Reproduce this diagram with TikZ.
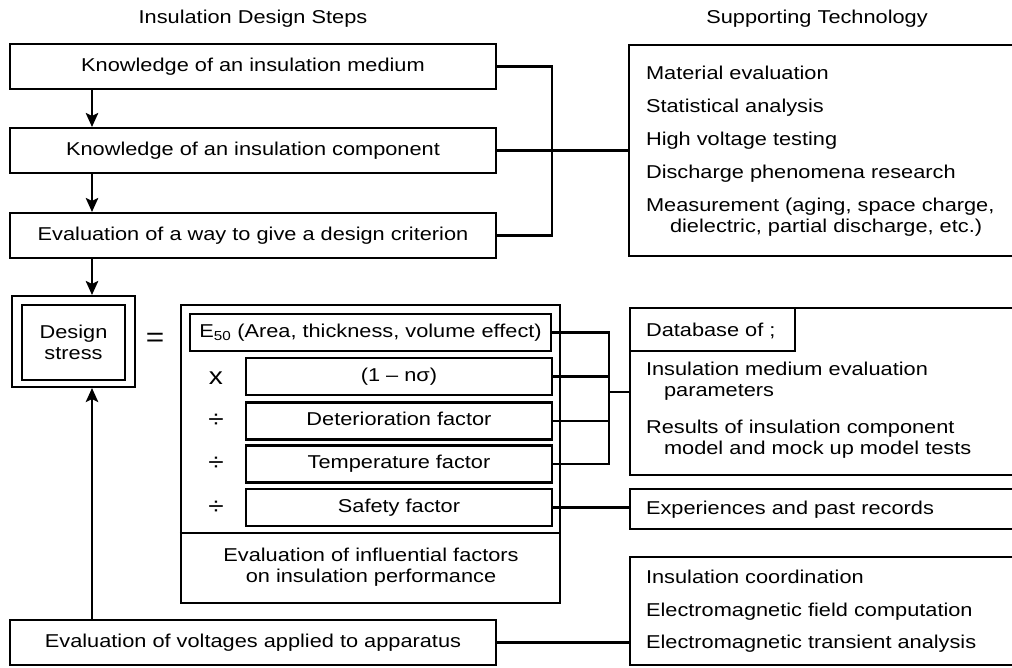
\documentclass[tikz,border=0pt]{standalone}
\usepackage{fontspec}
\setmainfont{Liberation Sans}[FakeStretch=1.17]
\usetikzlibrary{arrows.meta}
\begin{document}
\begin{tikzpicture}[x=1pt,y=-1pt, line width=2.1pt,
  font=\fontsize{18.6}{21}\selectfont,
  box/.style={draw, inner sep=0pt, text height=13.3pt, text depth=3.9pt},
  frame/.style={draw, inner sep=0pt, anchor=north west},
  lbl/.style={inner sep=0pt, anchor=base west},
  op/.style={inner sep=0pt, font=\fontsize{24}{24}\selectfont},
  arr/.style={-{Stealth[length=14pt,width=12.5pt,inset=3pt]}}]
\useasboundingbox (0,0) rectangle (1012,667);
\clip (0,0) rectangle (1012,667);

% titles
\node (t1) at (253,19) {Insulation Design Steps};
\node (t2) at (817,19) {Supporting Technology};

% left design steps
\node[box, minimum width=486pt, minimum height=45pt] (k1) at (253,66.5) {Knowledge of an insulation medium};
\node[box, minimum width=486pt, minimum height=45pt] (k2) at (253,150.5) {Knowledge of an insulation component};
\node[box, minimum width=486pt, minimum height=45pt] (k3) at (253,235.5) {Evaluation of a way to give a design criterion};

% supporting technology box 1
\node[frame, minimum width=450pt, minimum height=211pt] (sup1) at (628,44) {};
\node[lbl] (s1) at (645,79) {Material evaluation};
\node[lbl] (s2) at (645,112) {Statistical analysis};
\node[lbl] (s3) at (645,145) {High voltage testing};
\node[lbl] (s4) at (645,178.3) {Discharge phenomena research};
\node[lbl] (s5) at (645,211.7) {Measurement (aging, space charge,};
\node[lbl] (s6) at (669,232.7) {dielectric, partial discharge, etc.)};

% design stress
\node[draw, inner sep=0pt, minimum width=103pt, minimum height=75pt, align=center] (ds) at (73.5,342.5) {Design\\stress};
\node[draw, inner sep=0pt, minimum width=123pt, minimum height=91pt] (dso) at (73.5,341.5) {};
\node[op, font=\fontsize{27}{27}\selectfont] (eq) at (155,340) {=};

% big factor box
\node[draw, inner sep=0pt, minimum width=379pt, minimum height=298pt] (big) at (370.5,454) {};
\coordinate (dv) at (0,533);
\draw (big.west |- dv) -- (big.east |- dv);
\node[box, minimum width=361pt, minimum height=37pt] (e50) at (370.5,332.5) {E\textsubscript{50} (Area, thickness, volume effect)};
\node[box, minimum width=306pt, minimum height=37pt] (f1) at (399,376.5) {(1 – nσ)};
\node[box, minimum width=306pt, minimum height=37pt] (f2) at (399,421) {Deterioration factor};
\node[box, minimum width=306pt, minimum height=37pt] (f3) at (399,464) {Temperature factor};
\node[box, minimum width=306pt, minimum height=37pt] (f4) at (399,507.5) {Safety factor};
\node[op] (o1) at (216,378) {x};
\node[op] (o2) at (216,421) {÷};
\node[op] (o3) at (216,464) {÷};
\node[op] (o4) at (216,507.5) {÷};
\node[align=center] (ev) at (371,567.5) {Evaluation of influential factors\\on insulation performance};

% bottom box
\node[box, minimum width=486pt, minimum height=45pt] (bot) at (253,642.5) {Evaluation of voltages applied to apparatus};

% database box
\node[frame, minimum width=450pt, minimum height=167pt] (db) at (629,307) {};
\node[frame, minimum width=165pt, minimum height=43pt] (dbh) at (629,307) {};
\node[lbl] (dt) at (645,336) {Database of ;};
\node[lbl] (d1) at (645,375) {Insulation medium evaluation};
\node[lbl] (d2) at (663,396) {parameters};
\node[lbl] (d3) at (645,433.4) {Results of insulation component};
\node[lbl] (d4) at (663,454.4) {model and mock up model tests};

% experiences
\node[frame, minimum width=450pt, minimum height=40pt] (exp) at (629,488) {};
\node[lbl] (x1) at (645,514) {Experiences and past records};

% bottom supporting box
\node[frame, minimum width=450pt, minimum height=108pt] (sup3) at (629,556) {};
\node[lbl] (b1) at (645,583.3) {Insulation coordination};
\node[lbl] (b2) at (645,616) {Electromagnetic field computation};
\node[lbl] (b3) at (645,648.3) {Electromagnetic transient analysis};

% arrows
\coordinate (ax) at (92,0);
\draw[arr] (k1.south -| ax) -- (k2.north -| ax);
\draw[arr] (k2.south -| ax) -- (k3.north -| ax);
\draw[arr] (k3.south -| ax) -- (dso.north -| ax);
\draw[arr] (bot.north -| ax) -- (dso.south -| ax);

% upper bracket
\coordinate (bk) at (552,0);
\draw (k1.east) -- (k1.east -| bk) -- (k3.east -| bk) -- (k3.east);
\draw (k2.east) -- (k2.east -| sup1.west);

% factor bracket
\coordinate (bx) at (609,0);
\draw (e50.east) -- (e50.east -| bx) -- (f3.east -| bx) -- (f3.east);
\draw (f1.east) -- (f1.east -| bx);
\draw (f2.east) -- (f2.east -| bx);
\draw (db.west -| bx) -- (db.west);
\draw (f4.east) -- (f4.east -| exp.west);
\draw (bot.east) -- (bot.east -| sup3.west);
\end{tikzpicture}
\end{document}
